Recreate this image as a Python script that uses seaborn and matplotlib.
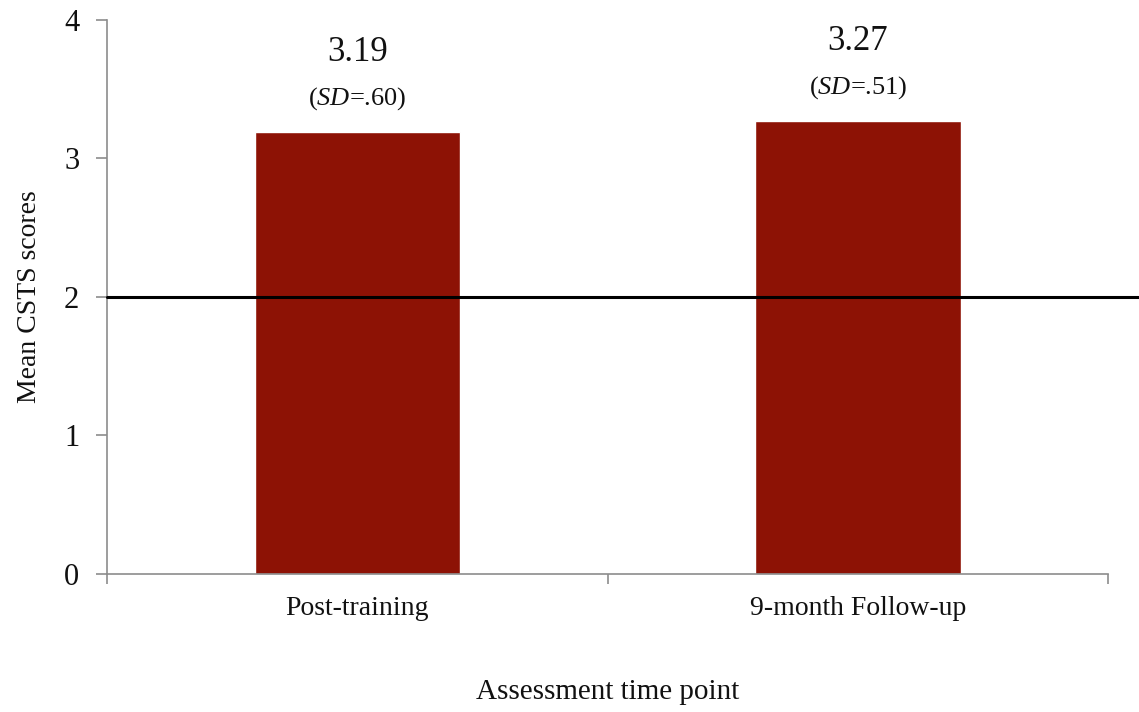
import matplotlib
matplotlib.use("Agg")
import matplotlib.pyplot as plt
import pandas as pd
import seaborn as sns

# values
time_points = ["Post-training", "9-month Follow-up"]
mean_scores = [3.19, 3.27]
sd_labels = [".60", ".51"]
cutoff = 2

df = pd.DataFrame({"time_point": time_points, "score": mean_scores})

sns.set_style("white")
plt.rcParams["font.family"] = ["Liberation Serif", "DejaVu Serif"]
plt.rcParams["mathtext.fontset"] = "custom"
plt.rcParams["mathtext.rm"] = "Liberation Serif"
plt.rcParams["mathtext.it"] = "Liberation Serif:italic"
plt.rcParams["text.color"] = "#111111"
plt.rcParams["axes.labelcolor"] = "#111111"
plt.rcParams["xtick.labelcolor"] = "#111111"
plt.rcParams["ytick.labelcolor"] = "#111111"

fig = plt.figure(figsize=(11.39, 7.12), dpi=100)
ax = fig.add_axes([0.094, 0.194, 0.879, 0.778])

sns.barplot(df, x="time_point", y="score", color="#8d1205", saturation=1,
            width=0.41, ax=ax)

ax.set_xlim(-0.5, 1.5)
ax.set_ylim(0, 4)
ax.set_yticks([0, 1, 2, 3, 4])

# cut-off line, runs past the right end of the axis
ax.axhline(cutoff, xmin=0, xmax=1.04, color="black", lw=2.2, clip_on=False, zorder=5)

# value and SD labels above the bars
for i, (m, sd) in enumerate(zip(mean_scores, sd_labels)):
    ax.annotate(f"{m:.2f}", (i, m), xytext=(0, 57), textcoords="offset points",
                ha="center", va="center", fontsize=25)
    ax.annotate(r"($\mathit{SD}$=" + sd + ")", (i, m), xytext=(0, 24),
                textcoords="offset points", ha="center", va="center", fontsize=19)

for s in ["top", "right"]:
    ax.spines[s].set_visible(False)
for s in ["left", "bottom"]:
    ax.spines[s].set_color("#8c8c8c")
    ax.spines[s].set_linewidth(1.2)

ax.tick_params(axis="y", direction="out", length=8, color="#8c8c8c", width=1.2,
               labelsize=22, pad=12, left=True)
ax.tick_params(axis="x", which="major", length=0, labelsize=20, pad=16)
ax.set_xticks([-0.5, 0.5, 1.5], minor=True)
ax.tick_params(axis="x", which="minor", direction="out", length=7, color="#8c8c8c",
               width=1.2, bottom=True)

ax.set_xlabel("Assessment time point", fontsize=21, labelpad=42)
ax.set_ylabel("Mean CSTS scores", fontsize=20, labelpad=16)

fig.savefig("out.png", dpi=100)
